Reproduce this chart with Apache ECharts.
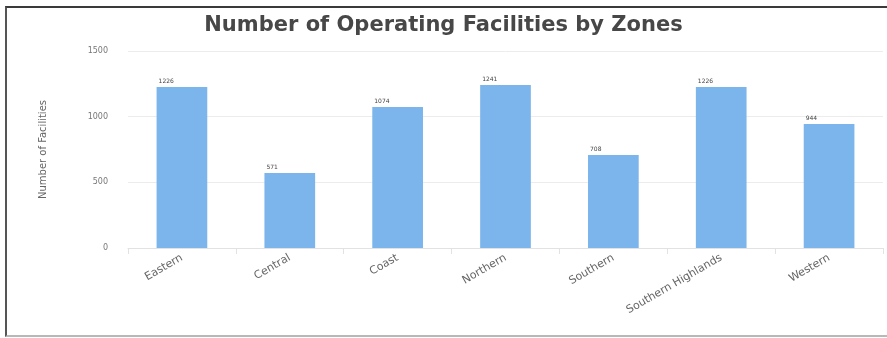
<!DOCTYPE html>
<html>
<head>
<meta charset="utf-8">
<script src="https://cdn.jsdelivr.net/npm/echarts@6/dist/echarts.min.js"></script>
<style>
html,body{margin:0;padding:0;background:#fff;}
#c{width:887px;height:338px;position:absolute;left:0;top:0;}
#frame{position:absolute;left:5px;top:6px;width:882px;height:331px;border-top:2px solid #3a3a3a;border-left:2px solid #555;border-bottom:2px solid #b8b8b8;pointer-events:none;box-sizing:border-box;}
</style>
</head>
<body>
<div id="c"></div>
<div id="frame"></div>
<script>
var titleText = 'Number of Operating Facilities by Zones';
var yAxisName = 'Number of Facilities';
var zones = ['Eastern', 'Central', 'Coast', 'Northern', 'Southern', 'Southern Highlands', 'Western'];
var facilities = [1226, 571, 1074, 1241, 708, 1226, 944];
var yTicks = {min: 0, max: 1500, interval: 500};

var chart = echarts.init(document.getElementById('c'));
chart.setOption({
  animation: false,
  title: {
    text: titleText,
    left: 'center',
    top: 10,
    textStyle: {fontFamily: 'DejaVu Sans', fontSize: 21, fontWeight: 'bold', color: '#474747'}
  },
  grid: {left: 128, right: 4, top: 51, bottom: 90},
  xAxis: {
    type: 'category',
    data: zones,
    axisLine: {lineStyle: {color: '#e2e2e2'}},
    axisTick: {show: true, alignWithLabel: false, length: 6, lineStyle: {color: '#e2e2e2'}},
    axisLabel: {rotate: 30, fontSize: 11, color: '#666', fontFamily: 'DejaVu Sans', margin: 9, interval: 0}
  },
  yAxis: {
    type: 'value',
    min: yTicks.min, max: yTicks.max, interval: yTicks.interval,
    name: yAxisName,
    nameLocation: 'middle',
    nameGap: 80,
    nameTextStyle: {fontSize: 10, color: '#666', fontFamily: 'DejaVu Sans'},
    axisLine: {show: false},
    axisTick: {show: false},
    axisLabel: {fontSize: 8, color: '#777', fontFamily: 'DejaVu Sans', margin: 20, formatter: function (v) { return String(v); }},
    splitLine: {lineStyle: {color: '#ececec'}}
  },
  series: [{
    type: 'bar',
    data: facilities,
    barWidth: '47%',
    itemStyle: {color: '#7cb5ec'},
    label: {
      show: true,
      position: [2, -9],
      fontSize: 6,
      color: '#444',
      fontFamily: 'DejaVu Sans'
    }
  }]
});
</script>
</body>
</html>
